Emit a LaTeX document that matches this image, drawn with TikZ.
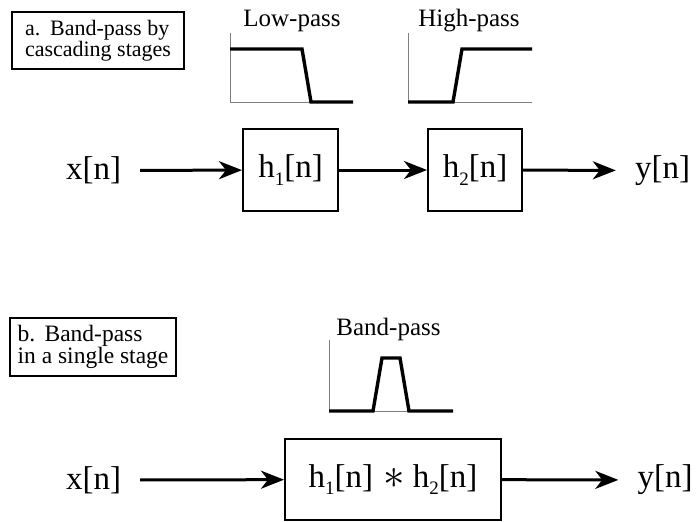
\documentclass[tikz,border=0pt]{standalone}
\usepackage{fontspec}
\setmainfont{Liberation Serif}
\usetikzlibrary{arrows.meta}
\newcommand{\mysub}[1]{\raisebox{-0.23em}{\fontsize{19}{19}\selectfont #1}}
\newcommand{\bigast}{\raisebox{-0.04em}{\scalebox{4.3}{\fontsize{10}{12}\selectfont$\ast$}}}
\tikzset{
  bigtxt/.style={font=\fontsize{33}{38}\selectfont, inner xsep=19pt, inner ysep=0pt},
  blockbox/.style={draw, line width=2pt, font=\fontsize{33}{38}\selectfont, inner sep=0pt},
  capbox/.style={draw, line width=1.2pt, align=left, inner sep=0pt},
  graphlbl/.style={font=\fontsize{25}{28}\selectfont, anchor=base, inner sep=0pt},
  sigarrow/.style={line width=3pt, -{Stealth[length=23pt,width=18pt,inset=7pt]}},
  axisline/.style={gray, line width=1pt},
  resp/.style={line width=3.4pt, line join=miter},
}
\begin{document}
\begin{tikzpicture}[x=1pt,y=-1pt]
\useasboundingbox (0,0) rectangle (699,522);
% ---------- part a ----------
\node[capbox, font=\fontsize{22}{21}\selectfont, minimum width=172pt, minimum height=57pt] (capa) at (98,40.5)
  {a.\hspace{0.45em}Band-pass by\\cascading stages};
% low-pass sketch
\node[graphlbl] (lplbl) at (292,27) {Low-pass};
\draw[axisline] (230,33) -- (230,102) -- (353,102);
\draw[resp] (230,49) -- (302,49) -- (311,102) -- (353,102);
% high-pass sketch
\node[graphlbl] (hplbl) at (469,27) {High-pass};
\draw[axisline] (408,33) -- (408,102) -- (532,102);
\draw[resp] (408,102) -- (453,102) -- (462,49) -- (532,49);
% chain
\node[bigtxt] (xa) at (93.5,170.5) {x[n]};
\node[blockbox, minimum width=95pt, minimum height=82pt] (h1) at (290.5,170) {h\mysub{1}[n]};
\node[blockbox, minimum width=94pt, minimum height=82pt] (h2) at (475,170) {h\mysub{2}[n]};
\node[bigtxt] (ya) at (662.5,170.5) {y[n]};
\draw[sigarrow] (xa) -- (h1);
\draw[sigarrow] (h1) -- (h2);
\draw[sigarrow] (h2) -- (ya);
% ---------- part b ----------
\node[capbox, font=\fontsize{23.5}{20}\selectfont, minimum width=166pt, minimum height=58pt] (capb) at (93,347)
  {b.\hspace{0.4em}Band-pass\\in a single stage};
\node[graphlbl] (bplbl) at (388.5,335) {Band-pass};
\draw[axisline] (329,340) -- (329,411) -- (453,411);
\draw[resp] (329,411) -- (373,411) -- (382,358) -- (400,358) -- (409,411) -- (453,411);
\node[bigtxt] (xb) at (93.5,480) {x[n]};
\node[blockbox, minimum width=216pt, minimum height=81pt] (hb) at (393,479.5)
  {h\mysub{1}[n]\hspace{0.3em}\bigast\hspace{0.25em}h\mysub{2}[n]};
\node[bigtxt] (yb) at (665,480) {y[n]};
\draw[sigarrow] (xb) -- (hb);
\draw[sigarrow] (hb) -- (yb);
\end{tikzpicture}
\end{document}
